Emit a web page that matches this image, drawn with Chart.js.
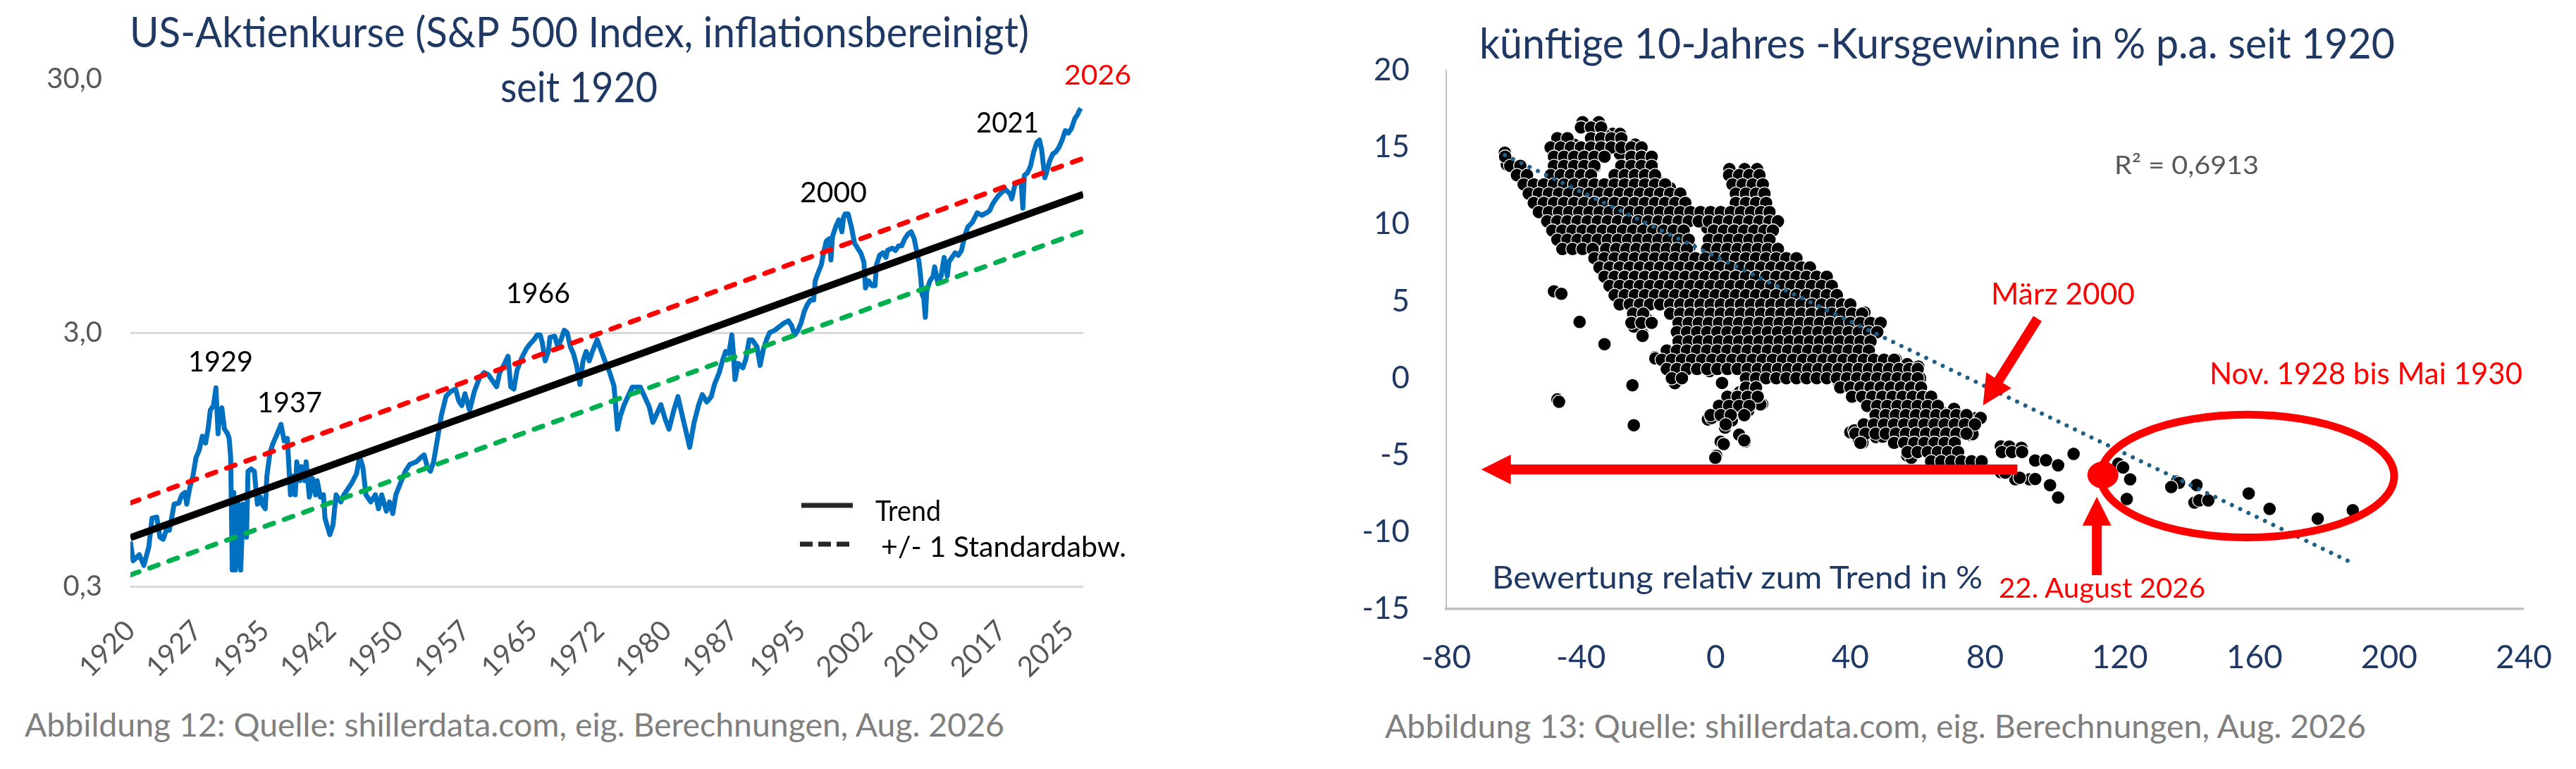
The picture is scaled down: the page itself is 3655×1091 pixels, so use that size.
<!DOCTYPE html>
<html>
<head>
<meta charset="utf-8">
<script src="https://cdn.jsdelivr.net/npm/chart.js@4.4.1/dist/chart.umd.min.js"></script>
<style>
html,body{margin:0;padding:0;background:#fff;}
body{width:3655px;height:1091px;position:relative;overflow:hidden;}
.box{position:absolute;}
.txt{position:absolute;white-space:nowrap;line-height:1;font-family:Lato,'Noto Sans',sans-serif;transform-origin:0 0;}
</style>
</head>
<body>
<div class="box" style="left:0;top:0;width:1830px;height:1000px"><canvas id="left"></canvas></div>
<div class="box" style="left:1830px;top:0;width:1825px;height:1000px"><canvas id="right"></canvas></div>
<script>
// ---------------- LEFT CHART DATA (S&P 500 real, log scale) ----------------
const priceYears = [
1920.00,1920.31,1921.00,1921.51,1922.07,1922.42,1922.95,1923.30,1923.66,1924.02,
1924.36,1924.71,1924.89,1925.41,1925.76,1926.12,1926.30,1926.65,1927.00,1927.35,
1927.70,1928.05,1928.41,1928.69,1928.94,1929.29,1929.57,1929.81,1929.99,1930.23,
1930.52,1930.87,1931.05,1931.22,1931.40,1931.57,1931.75,1932.10,1932.34,1932.62,
1932.99,1933.16,1933.51,1933.86,1934.21,1934.56,1934.74,1935.09,1935.27,1935.62,
1935.97,1936.32,1936.85,1937.20,1937.56,1937.91,1938.09,1938.44,1938.61,1938.96,
1939.14,1939.49,1939.66,1940.02,1940.37,1940.72,1940.90,1941.25,1941.60,1941.77,
1942.31,1942.66,1943.01,1943.54,1943.89,1944.24,1944.77,1945.30,1945.65,1946.00,
1946.35,1946.89,1947.41,1947.76,1948.11,1948.64,1948.99,1949.35,1949.70,1950.22,
1950.75,1951.27,1951.98,1952.51,1952.86,1953.21,1953.56,1953.92,1954.45,1954.80,
1955.32,1955.85,1956.38,1956.73,1957.08,1957.43,1957.95,1958.48,1959.08,1959.58,
1960.07,1960.61,1960.97,1961.32,1961.88,1962.25,1962.55,1962.90,1963.26,1963.75,
1964.28,1964.66,1965.15,1965.50,1965.85,1966.07,1966.41,1966.76,1966.94,1967.47,
1967.82,1968.18,1968.53,1968.87,1969.22,1969.57,1969.92,1970.29,1970.64,1970.99,
1971.34,1971.69,1972.21,1972.70,
1973.13,1973.60,1974.10,1974.50,1974.79,
1975.24,1976.14,1977.05,1978.05,1978.45,1979.35,1979.86,1980.26,1980.76,1981.26,
1981.77,1982.17,1982.57,1983.07,1983.58,1983.98,1984.48,1984.98,
1985.35,1985.88,1986.23,1986.59,1986.94,1987.29,1987.46,1987.64,1987.99,1988.52,
1988.87,1989.22,1989.57,1990.10,1990.45,1990.81,1991.16,1991.51,1992.04,1992.57,
1993.10,1993.62,1993.97,1994.32,1994.67,1995.02,1995.39,1995.74,1996.09,1996.44,
1996.61,1996.79,1997.31,1997.49,1997.85,1998.20,1998.37,1998.55,1998.90,1999.25,
1999.60,1999.78,1999.95,2000.30,2000.66,2001.01,2001.36,2001.71,2002.06,2002.24,
2002.59,2002.94,2003.30,2003.47,2003.82,2004.18,2004.53,2004.70,2005.23,2005.59,
2005.94,2006.29,2006.64,2006.99,2007.34,2007.69,2008.05,2008.23,2008.40,2008.58,
2008.75,2008.93,2009.10,2009.45,2009.80,2009.98,2010.34,2010.69,2011.04,2011.39,
2011.56,2011.91,2012.26,2012.62,2012.98,2013.33,2013.68,2014.20,2014.73,2015.26,
2015.79,2016.14,2016.49,2017.03,2017.55,2017.90,2018.43,2018.60,2018.96,2019.31,
2019.66,2019.84,2020.01,2020.36,2020.71,2021.06,2021.41,2021.70,2021.94,2022.30,
2022.48,2022.83,2023.18,2023.54,2023.89,2024.24,2024.59,2024.94,2025.29,2025.64,
2025.99,2026.16,2026.34
];
const priceValues = [
0.45,0.379,0.400,0.363,0.431,0.557,0.563,0.469,0.460,0.500,
0.500,0.581,0.633,0.639,0.689,0.704,0.633,0.735,0.818,0.969,
1.033,1.174,1.102,1.252,1.484,1.549,1.818,1.200,1.484,1.517,
1.252,1.200,1.149,0.969,0.348,0.704,0.348,0.633,0.348,0.633,
0.469,0.853,0.871,0.853,0.633,0.675,0.633,0.607,0.818,1.012,
1.102,1.174,1.306,1.125,1.149,0.689,0.818,0.689,0.929,0.783,
0.890,0.783,0.929,0.675,0.800,0.689,0.783,0.675,0.689,0.557,
0.480,0.522,0.689,0.646,0.689,0.719,0.767,0.835,0.969,0.890,
0.689,0.646,0.689,0.607,0.689,0.594,0.646,0.581,0.689,0.767,
0.853,0.909,0.929,0.969,0.990,0.890,0.853,0.929,1.200,1.423,
1.687,1.761,1.799,1.617,1.549,1.724,1.484,1.761,2.001,2.088,
2.045,1.918,1.837,2.088,2.274,2.424,1.837,1.799,2.134,2.373,
2.585,2.697,2.815,2.937,2.937,2.755,2.323,2.530,2.875,2.906,
2.640,2.815,3.066,3.001,2.640,2.477,2.226,1.877,2.323,2.530,
2.323,2.530,2.815,2.530,
2.30,2.10,1.85,1.25,1.40,
1.56,1.83,1.83,1.53,1.33,1.56,1.36,1.25,1.47,1.68,
1.40,1.22,1.06,1.33,1.56,1.71,1.60,1.68,
1.88,2.09,2.32,2.53,2.48,2.94,2.48,1.96,2.27,2.18,
2.37,2.81,2.81,2.64,2.23,2.58,2.81,3.00,3.06,3.16,
3.27,3.34,3.20,2.94,3.06,3.27,3.64,3.88,4.04,4.04,
4.80,5.01,5.57,6.06,6.89,7.04,5.81,7.19,7.83,8.35,
7.50,8.53,8.81,8.81,7.83,6.75,6.46,6.19,5.69,4.50,
4.80,4.60,4.60,5.57,6.06,6.19,5.94,6.33,6.46,6.33,
6.60,6.60,7.04,7.35,7.50,7.04,6.06,5.69,5.01,4.22,
4.13,3.45,4.40,4.80,5.01,5.45,4.69,5.01,5.94,5.01,
5.69,5.94,6.19,6.06,6.33,7.19,7.83,8.17,8.90,8.71,
8.90,9.09,9.69,10.33,10.78,11.01,10.55,10.11,11.49,11.74,
11.74,9.29,12.51,12.79,13.63,15.49,16.87,17.23,15.82,12.25,
12.79,14.22,15.17,15.49,16.16,17.23,18.77,18.37,19.17,20.88,
21.79,22.50,22.98
];
const trendYears  = [1920, 2026.6];
const trendValues = [0.467, 10.53];
const upperValues = [0.640, 14.6];
const lowerValues = [0.333, 7.54];
const leftXTickLabels = ['1920','1927','1935','1942','1950','1957','1965','1972','1980','1987','1995','2002','2010','2017','2025'];
const leftYTickValues = [0.3, 3, 30];
const leftYTickLabels = ['0,3','3,0','30,0'];

// ---------------- RIGHT CHART DATA (valuation vs. future 10y return) ----------------
// individually read dots (edges, outliers, sparse parts)
const monthlyPoints = [
[-39.5,16.64],[-34.7,16.64],[-30.6,15.88],[-32.8,15.8],[-28.4,15.88],[-35.4,14.81],[-32.4,14.73],[-28.4,14.58],[-23.9,15.19],[-37.3,14.2],
[-20.6,14.2],[-22.5,13.82],[-47.6,15.11],[-42.1,15.19],[-44.3,14.89],[-46.1,14.2],[-42.8,14.05],[-41.7,13.43],[-43.9,13.13],[-35.8,13.74],
[-37.3,13.28],[-17.7,13.05],
[-62.6,14.66],[-62.0,13.89],[-58.7,13.13],[-56.1,12.82],[-53.5,11.68],[-49.8,12.67],[-47.6,12.67],[-52.0,11.14],[-49.8,10.53],[-47.2,10.23],
[-46.1,9.16],[-43.9,9.24],[-41.7,8.7],[-38.7,11.6],[-40.9,11.14],[-44.6,11.6],[-48.3,11.91],
[-34.3,12.21],[-29.1,12.82],[-26.2,12.37],[-29.9,11.45],[-32.8,10.84],[-35.8,10.38],[-25.4,11.3],[-22.5,11.14],[-19.5,12.06],[-17.3,11.6],
[-13.6,12.37],[-10.6,11.6],[-15.1,10.69],[-18.0,9.92],[-21.0,10.53],[-23.9,10.07],[-26.9,9.77],[-29.9,9.46],[-32.8,8.85],[-35.8,8.09],
[-29.9,8.24],[-26.2,8.55],[-22.5,9.0],[-18.8,8.85],[-13.6,10.38],[-9.2,10.38],[-6.2,10.69],[-4.7,10.38],[-1.8,10.53],[2.7,10.38],
[-2.5,9.77],[0.4,9.16],[4.1,9.77],[7.1,10.53],[10.0,10.99],[13.0,11.6],[16.0,10.84],[13.7,10.38],[4.1,13.59],[8.6,13.59],
[12.3,13.59],[13.0,12.98],[6.4,12.67],[9.3,12.21],
[-7.7,8.55],[-10.6,7.94],[-15.1,7.94],[-18.0,7.17],[-21.0,7.02],[-23.9,6.41],[-26.9,6.1],[-29.1,5.65],[-19.5,6.41],[-14.3,6.41],
[-7.7,6.72],[-4.0,7.02],[-1.0,7.17],[2.7,6.72],[5.6,8.24],[8.6,7.94],[1.9,8.39],[14.5,7.78],[18.2,7.33],[21.9,7.33],
[25.6,7.02],[16.0,6.41],[12.3,6.1],[7.8,5.8],[4.1,6.1],[-0.3,5.49],[-3.3,5.19],[-7.7,5.65],[-10.6,5.04],[-12.9,4.42],
[-15.8,5.04],[-4.7,4.27],[-1.8,3.97],[1.2,4.27],[5.6,4.58],[10.0,4.73],[14.5,5.04],[18.9,5.19],[21.9,5.8],[27.8,5.8],
[30.7,6.1],[33.7,5.95],[38.1,4.73],[41.1,3.97],[30.7,4.27],[27.8,3.97],[24.8,4.58],[20.4,3.97],[16.7,3.66],[13.0,3.36],
[8.6,3.66],[4.1,3.2],[-0.3,3.05],[-4.0,3.36],[-7.7,3.05],[-10.6,3.36],[-9.2,2.44],[-6.2,2.14],[-2.5,1.83],[1.9,2.44],
[6.4,2.44],[10.8,2.44],[14.5,2.14],[18.9,2.44],[22.6,3.05],[26.3,3.2],[30.7,3.66],[34.4,3.36],[38.1,3.05],[35.9,2.44],
[32.2,2.44],[27.8,1.68],[24.1,1.98],[21.1,1.52],[17.4,1.22],[13.0,0.91],[9.3,1.52],[4.9,1.68],[1.2,1.52],[-3.3,1.22],
[-7.0,1.52],[-10.6,1.52],[-13.6,1.07],[-12.9,0.3],[-9.2,0.46],[-18.0,1.37],[-1.8,0.46],[1.9,-0.31],[7.1,-0.92],[11.5,-0.61],
[16.0,0.3],[20.4,0.3],[24.8,0.46],[29.3,0.76],[33.7,0.3],[36.6,-0.31],[39.6,-0.61],
[-48.0,5.65],[-45.8,5.49],[-40.4,3.66],[-33.0,2.21],[-24.7,-0.46],[-47.0,-1.38],[-22.5,4.27],[-20.3,3.81],[-23.9,3.36],[-21.7,2.9],
[-31.0,6.72],[-28.5,5.80],[-24.3,6.26],[-20.0,6.87],[-21.7,5.65],[-15.0,6.41],[-11.6,5.80],[-8.2,5.65],[-3.1,5.49],[0.2,6.26],
[2.8,6.87],[7.0,6.56],[12.1,6.26],[17.1,6.72],[22.2,6.56],[25.6,6.26],[30.7,6.41],[33.2,5.80],[21.4,5.19],[18.0,5.34],
[13.8,5.04],[8.7,4.88],[3.6,5.34],[-1.4,4.88],[-4.8,4.73],[-9.1,4.88],[-12.4,4.42],[-15.8,5.34],[-19.2,5.04],[-22.6,4.27],
[-24.3,3.36],[-20.9,3.66],[-21.7,2.75],[-17.9,1.29],[-14.1,0.91],[-12.4,0.0],[-9.9,0.61],[-7.4,1.37],[-3.1,2.13],[0.2,2.59],
[-9.1,2.59],[-6.5,3.36],[-3.1,3.66],[1.1,3.20],[5.3,3.66],[9.5,3.36],[13.8,3.66],[18.0,3.81],[22.2,4.12],[27.3,4.42],
[32.4,4.73],[36.6,4.73],[39.1,4.12],[44.2,4.27],[48.4,3.59],[46.7,2.90],[42.5,2.59],[39.1,2.13],[34.9,1.52],[30.7,1.83],
[28.1,1.37],[24.7,2.29],[20.5,1.98],[15.5,2.13],[12.1,1.68],[7.8,1.98],[3.6,1.68],[-0.6,1.37],[13.8,1.07],[18.0,0.76],
[22.2,0.91],[26.4,0.61],[32.4,0.61],[37.4,0.30],[41.6,-0.16],[45.0,0.76],[49.2,1.07],[53.5,1.22],[56.9,0.91],[60.2,0.76],
[60.7,0.0],[56.0,0.0],[51.8,-0.46],[47.6,-0.92],[43.3,-0.77],[40.8,-1.22],[54.3,-1.07],[58.5,-0.77],[62.8,-1.38],[64.5,-1.99],
[67.8,-2.29],[70.8,-1.99],[74.6,-2.45],[77.1,-2.60],[75.4,-3.67],[71.2,-4.12],[68.7,-3.67],[66.2,-3.21],[61.9,-3.51],[56.9,-3.06],
[53.5,-2.75],[49.2,-2.60],[47.6,-3.82],[42.5,-3.97],[40.0,-3.51],[44.2,-3.21],[54.3,-3.97],[56.9,-5.04],[61.9,-4.58],[66.2,-4.12],
[68.7,-5.19],[72.1,-5.50],[78.0,-5.50],[84.7,-4.43],[89.8,-4.58],[84.7,-6.11],[89.0,-6.57],[93.2,-6.57],[94.9,-5.35],
[13.8,0.15],[11.2,-0.46],[8.7,-0.77],[5.3,-1.22],[3.6,-1.53],[1.9,-1.99],[4.5,-2.60],[0.2,-2.45],[-2.3,-2.68],[2.8,-3.21],
[8.7,-2.29],[13.8,-1.68],[7.0,-3.67],[8.7,-4.12],[1.5,-4.12],[0.2,-5.04],[-24.3,-3.06],
[-0.1,-5.17],[2.4,-4.28],[8.5,-4.04],[-1.2,-2.58],[4.8,-2.75],[9.7,-2.1],[13.3,-1.7],[-12.1,-0.32],[-46.5,-1.53],
[41.2,-3.39],[43.6,-4.2],[49.6,-3.8],[49.6,-2.58],[55.7,-4.04],[58.1,-4.85],[58.1,-5.17],[62.9,-4.69],[67.8,-4.2],[69.0,-5.25],
[70.2,-3.39],[72.6,-5.41],[76.3,-3.63],[78.7,-2.58],[78.7,-5.41],[86.0,-6.14],[87.2,-4.44],[90.8,-4.52],[90.3,-6.47],[94.9,-6.55],
[98.1,-5.33],[99.3,-6.95],[101.7,-5.66],[101.7,-7.76],
[106.3,-4.92],[119.6,-5.56],[121.0,-5.8],[123.1,-6.57],[122.1,-7.85],[137.0,-6.71],[137.6,-6.8],[135.3,-7.07],[142.8,-6.94],[142.2,-8.08],
[143.6,-7.94],[146.3,-7.94],[158.3,-7.49],[164.5,-8.49],[178.8,-9.13],[189.2,-8.58]
];
// dense core of the cloud, read row by row: [future return %, [valuations %]]
const monthlyCoreRows = [
[16.3, [-40,-37,-34]],
[15.6, [-47,-44,-37,-34,-31,-28]],
[15.0, [-49,-46,-43,-40,-37,-34,-31,-28,-25,-22]],
[14.4, [-62.5,-48,-45,-42,-39,-36,-33,-25,-22,-19]],
[13.8, [-61,-58,-48,-45,-42,-39,-36,-28,-25,-22,-19]],
[13.2, [-59,-56,-49,-46,-43,-40,-37,-30,-27,-24,-21,-18,4,7,10,13]],
[12.6, [-57,-54,-51,-48,-45,-42,-39,-36,-33,-30,-27,-24,-21,-18,-15,5,8,11,14]],
[12.0, [-55.5,-52.5,-49.5,-46.5,-43.5,-40.5,-37.5,-34.5,-31.5,-28.5,-25.5,-22.5,-19.5,-16.5,-13.5,-10.5,6,9,12,14.5]],
[11.4, [-54,-51,-48,-45,-42,-39,-36,-33,-30,-27,-24,-21,-18,-15,-12,-9,6,9,12,15]],
[10.8, [-52.5,-49.5,-46.5,-43.5,-40.5,-37.5,-34.5,-31.5,-28.5,-25.5,-22.5,-19.5,-16.5,-13.5,-10.5,-7.5,-4.5,-1.5,1.5,4.5,7.5,10.5,13.5,16]],
[10.2, [-50,-47,-44,-41,-38,-35,-32,-29,-26,-23,-20,-17,-14,-11,-8,-5,-2,1,4,7,10,13,16,18.5]],
[9.6, [-48.5,-45.5,-42.5,-39.5,-36.5,-33.5,-30.5,-27.5,-24.5,-21.5,-18.5,-15.5,-12.5,-9.5,-0.5,2.5,5.5,8.5,11.5,14.5,17]],
[9.0, [-47,-44,-41,-38,-35,-32,-29,-26,-23,-20,-17,-14,-11,-8,-2,1,4,7,10,13,16]],
[8.4, [-45.5,-42.5,-39.5,-36.5,-32.5,-29.5,-26.5,-23.5,-20.5,-17.5,-14.5,-11.5,-8.5,-2.5,0.5,3.5,6.5,9.5,12.5,15.5,18.5]],
[7.8, [-36,-33,-30,-27,-24,-21,-18,-15,-12,-9,-6,-3,0,3,6,9,12,15,18,21,24]],
[7.2, [-34.5,-31.5,-28.5,-25.5,-22.5,-19.5,-16.5,-13.5,-10.5,-7.5,-4.5,-1.5,1.5,4.5,7.5,10.5,13.5,16.5,19.5,22.5,25.5,28]],
[6.6, [-33,-30,-27,-24,-21,-18,-15,-12,-9,-6,-3,0,3,6,9,12,15,18,21,24,27,30,33]],
[6.0, [-31.5,-28.5,-25.5,-22.5,-19.5,-16.5,-13.5,-10.5,-7.5,-4.5,-1.5,1.5,4.5,7.5,10.5,13.5,16.5,19.5,22.5,25.5,28.5,31.5,34.5]],
[5.4, [-30,-27,-24,-21,-18,-15,-12,-9,-6,-3,0,3,6,9,12,15,18,21,24,27,30,33,36]],
[4.8, [-28.5,-25.5,-22.5,-19.5,-16.5,-13.5,-10.5,-7.5,-4.5,-1.5,1.5,4.5,7.5,10.5,13.5,16.5,19.5,22.5,25.5,28.5,31.5,34.5,37.5,40]],
[4.2, [-24.5,-21.5,-13.5,-10.5,-7.5,-4.5,-1.5,1.5,4.5,7.5,10.5,13.5,16.5,19.5,22.5,25.5,28.5,31.5,34.5,37.5,40.5,43.5]],
[3.6, [-25,-22,-19,-11,-8,-5,-2,1,4,7,10,13,16,19,22,25,28,31,34,37,40,43,46,49]],
[3.0, [-11.5,-8.5,-5.5,-2.5,0.5,3.5,6.5,9.5,12.5,15.5,18.5,21.5,24.5,27.5,30.5,33.5,36.5,39.5,42.5,45.5,48]],
[2.4, [-11,-8,-5,-2,1,4,7,10,13,16,19,22,25,28,31,34,37,40,43,46]],
[1.8, [-14.5,-11.5,-8.5,-5.5,-2.5,0.5,3.5,6.5,9.5,12.5,15.5,18.5,21.5,24.5,27.5,30.5,33.5,36.5,39.5,42.5,45.5]],
[1.2, [-16,-13,-10,-7,-4,-1,2,5,8,11,14,17,20,23,26,29,32,35,38,41,44,47,50,53]],
[0.6, [-14.5,-11.5,-8.5,-5.5,-2.5,0.5,3.5,6.5,9.5,12.5,15.5,18.5,21.5,24.5,27.5,30.5,33.5,36.5,39.5,42.5,45.5,48.5,51.5,54.5,57.5,60]],
[0.0, [-13,-10,9,12,15,18,21,24,27,30,33,36,39,42,45,48,51,54,57,60]],
[-0.6, [9,12,37,40,43,46,49,52,55,58,61]],
[-1.2, [3.5,6.5,9.5,12.5,40.5,43.5,46.5,49.5,52.5,55.5,58.5,61.5,64]],
[-1.8, [1,4,7,10,45,48,51,54,57,60,63,66]],
[-2.4, [-1.5,1.5,4.5,8.5,47.5,50.5,53.5,56.5,59.5,62.5,65.5,68.5,71.5,74.5]],
[-3.0, [3,44,47,50,53,56,59,62,65,68,71,74,77]],
[-3.6, [41.5,44.5,47.5,50.5,53.5,56.5,59.5,62.5,65.5,68.5,71.5,74.5]],
[-4.2, [43,53,56,59,62,65,68,71]],
[-4.8, [57,60,63,66,69,72,85,88,91]],
[-5.4, [64,67,70,73,76,79]]
];
const currentPoint = [115.0, -6.29];          // 22. August 2026
const regressionX = [-62.6, 188.7];
const regressionY = [14.5, -11.97];
const rightXTicks = [-80,-40,0,40,80,120,160,200,240];
const rightYTicks = [-15,-10,-5,0,5,10,15,20];

// ---------------- TEXTS ----------------
const NAVY = '#1f3864', RED = '#ff0000', GREY = '#595959', FOOT = '#7f7f7f';
const texts = [
 {t:'US-Aktienkurse (S&P 500 Index, inflationsbereinigt)', x:184, w:1276, base:67, cap:43, c:NAVY},
 {t:'seit 1920', x:710, w:223, base:145, cap:43, c:NAVY},
 {t:'1929', x:267, w:92, base:527, cap:29, c:'#000'},
 {t:'1937', x:365, w:92, base:585, cap:29, c:'#000'},
 {t:'1966', x:718, w:91, base:430, cap:29, c:'#000'},
 {t:'2000', x:1135, w:95, base:287, cap:29, c:'#000'},
 {t:'2021', x:1385, w:89, base:188, cap:29, c:'#000'},
 {t:'2026', x:1510, w:95, base:120, cap:28, c:RED},
 {t:'Trend', x:1242, w:93, base:739, cap:29, c:'#000'},
 {t:'+/- 1 Standardabw.', x:1250, w:348, base:790, cap:29, c:'#000'},
 {t:'Abbildung 12: Quelle: shillerdata.com, eig. Berechnungen, Aug. 2026', x:35, w:1390, base:1045, cap:33, c:FOOT},
 {t:'künftige 10-Jahres -Kursgewinne in % p.a. seit 1920', x:2099, w:1299, base:83, cap:43, c:NAVY},
 {t:'R² = 0,6913', x:3000, w:205, base:247, cap:26, c:GREY},
 {t:'März 2000', x:2825, w:204, base:432, cap:30, c:RED},
 {t:'Nov. 1928 bis Mai 1930', x:3135, w:444, base:545, cap:30, c:RED},
 {t:'Bewertung relativ zum Trend in %', x:2117, w:696, base:835, cap:32, c:NAVY},
 {t:'22. August 2026', x:2836, w:293, base:848, cap:27, c:RED},
 {t:'Abbildung 13: Quelle: shillerdata.com, eig. Berechnungen, Aug. 2026', x:1965, w:1392, base:1047, cap:33, c:FOOT}
];
const CAP_RATIO = 0.7165; // Lato cap height / em

function layoutTexts(){
  texts.forEach(s=>{
    const d = document.createElement('div');
    d.className = 'txt';
    d.textContent = s.t;
    d.style.color = s.c;
    d.style.fontSize = (s.cap / CAP_RATIO) + 'px';
    d.style.left = s.x + 'px';
    d.style.top = '0px';
    const m = document.createElement('span');
    m.style.cssText = 'display:inline-block;width:0;height:0;vertical-align:baseline';
    d.appendChild(m);
    document.body.appendChild(d);
    const w = d.getBoundingClientRect().width;
    const b = m.getBoundingClientRect().top;
    d.style.transform = 'scaleX(' + (s.w / w) + ')';
    d.style.top = (s.base - b) + 'px';
  });
}

// ---------------- CHARTS ----------------
const FONT = "Lato, 'Noto Sans', sans-serif";

const leftLegend = {
  id: 'leftLegend',
  afterDraw(chart){
    const c = chart.ctx;
    c.save();
    c.strokeStyle = '#262626';
    c.lineWidth = 7;
    c.lineCap = 'butt';
    c.beginPath(); c.moveTo(1137, 717); c.lineTo(1210, 717); c.stroke();
    c.setLineDash([18, 8]);
    c.beginPath(); c.moveTo(1135, 772); c.lineTo(1212, 772); c.stroke();
    c.restore();
  }
};

new Chart(document.getElementById('left'), {
  type: 'line',
  data: {
    datasets: [
      {label:'S&P 500 (real)', data: priceYears.map((x,i)=>({x, y: priceValues[i]})),
       borderColor:'#0070c0', borderWidth:7, pointRadius:0, tension:0, borderJoinStyle:'round', order:4},
      {label:'Trend', data: trendYears.map((x,i)=>({x, y: trendValues[i]})),
       borderColor:'#000', borderWidth:10, pointRadius:0, order:3},
      {label:'+1 Std', data: trendYears.map((x,i)=>({x, y: upperValues[i]})),
       borderColor:'#ff0000', borderWidth:7, borderDash:[13,16], borderCapStyle:'round', pointRadius:0, order:2},
      {label:'-1 Std', data: trendYears.map((x,i)=>({x, y: lowerValues[i]})),
       borderColor:'#00b050', borderWidth:7, borderDash:[13,16], borderCapStyle:'round', pointRadius:0, order:1}
    ]
  },
  options: {
    responsive:true, maintainAspectRatio:false, animation:false, events:[],
    layout:{padding:{left:0, top:112, right:293, bottom:0}, autoPadding:false},
    plugins:{legend:{display:false}, tooltip:{enabled:false}},
    scales:{
      x:{
        type:'linear', min:1920, max:2026.6,
        afterFit: s => { s.height = 168; },
        afterBuildTicks: s => { s.ticks = leftXTickLabels.map((l,i)=>({value: 1920 + 7.5*i})); },
        ticks:{autoSkip:false, minRotation:45, maxRotation:45, padding:31, color:GREY,
               font:{family:FONT, size:40}, callback:(v,i)=>leftXTickLabels[i]},
        grid:{display:false}, border:{display:false}
      },
      y:{
        type:'logarithmic', min:0.3, max:30,
        afterFit: s => { s.width = 185; },
        afterBuildTicks: s => { s.ticks = leftYTickValues.map(v=>({value:v})); },
        ticks:{padding:40, color:GREY, font:{family:FONT, size:40}, callback:(v,i)=>leftYTickLabels[i]},
        grid:{drawTicks:false, lineWidth:3,
              color: ctx => (ctx.tick && ctx.tick.value === 30) ? 'rgba(0,0,0,0)' : '#d9d9d9'},
        border:{display:false}
      }
    }
  },
  plugins:[leftLegend]
});

// annotation shapes for the right chart, expressed in data coordinates
const rightShapes = {
  ellipse: {cx:157.9, cy:-6.36, rx:43.6, ry:3.99, width:11},
  arrows: [
    {from:[89.6,-5.93], to:[-69.6,-5.93], shaft:14, head:42, headW:42},
    {from:[113.2,-12.8], to:[113.2,-7.71], shaft:14, head:41, headW:41},
    {from:[95.6,3.87], to:[79.4,-1.76], shaft:14, head:42, headW:42}
  ]
};
function drawArrow(ctx,x1,y1,x2,y2,shaft,headLen,headW){
  const dx=x2-x1, dy=y2-y1, L=Math.hypot(dx,dy), ux=dx/L, uy=dy/L, px=-uy, py=ux;
  const bx=x2-ux*headLen, by=y2-uy*headLen;
  ctx.beginPath();
  ctx.moveTo(x1+px*shaft/2, y1+py*shaft/2);
  ctx.lineTo(bx+px*shaft/2, by+py*shaft/2);
  ctx.lineTo(bx+px*headW/2, by+py*headW/2);
  ctx.lineTo(x2, y2);
  ctx.lineTo(bx-px*headW/2, by-py*headW/2);
  ctx.lineTo(bx-px*shaft/2, by-py*shaft/2);
  ctx.lineTo(x1-px*shaft/2, y1-py*shaft/2);
  ctx.closePath();
  ctx.fill();
}
const rightAnnotations = {
  id:'rightAnnotations',
  afterDatasetsDraw(chart){
    const c = chart.ctx, xs = chart.scales.x, ys = chart.scales.y;
    c.save();
    const e = rightShapes.ellipse;
    const cx = xs.getPixelForValue(e.cx), cy = ys.getPixelForValue(e.cy);
    const rx = xs.getPixelForValue(e.cx + e.rx) - cx, ry = cy - ys.getPixelForValue(e.cy + e.ry);
    c.strokeStyle = '#ff0000'; c.lineWidth = e.width;
    c.beginPath(); c.ellipse(cx, cy, rx, ry, 0, 0, Math.PI*2); c.stroke();
    c.fillStyle = '#ff0000';
    rightShapes.arrows.forEach(a=>{
      drawArrow(c, xs.getPixelForValue(a.from[0]), ys.getPixelForValue(a.from[1]),
                   xs.getPixelForValue(a.to[0]), ys.getPixelForValue(a.to[1]), a.shaft, a.head, a.headW);
    });
    const px = xs.getPixelForValue(currentPoint[0]), py = ys.getPixelForValue(currentPoint[1]);
    c.beginPath(); c.ellipse(px, py, 22, 19, 0, 0, Math.PI*2); c.fill();
    c.restore();
  }
};

const allMonthly = monthlyPoints.map(p=>({x:p[0], y:p[1]}));
monthlyCoreRows.forEach(r => r[1].forEach(x => allMonthly.push({x, y:r[0]})));

new Chart(document.getElementById('right'), {
  type:'scatter',
  data:{
    datasets:[
      {label:'Regression', type:'line', showLine:true,
       data: regressionX.map((x,i)=>({x, y: regressionY[i]})),
       borderColor:'#1f6089', borderWidth:6, borderDash:[0.01,13], borderCapStyle:'round',
       pointRadius:0, order:1},
      {label:'Monate', data: allMonthly,
       pointRadius:9.5, pointBackgroundColor:'#000', pointBorderColor:'#ffffff', pointBorderWidth:1.3,
       backgroundColor:'#000', borderColor:'#fff', order:2}
    ]
  },
  options:{
    responsive:true, maintainAspectRatio:false, animation:false, events:[],
    layout:{padding:{left:0, top:100, right:58, bottom:0}, autoPadding:false},
    plugins:{legend:{display:false}, tooltip:{enabled:false}},
    scales:{
      x:{
        type:'linear', min:-80, max:240,
        afterFit: s => { s.height = 136; },
        afterBuildTicks: s => { s.ticks = rightXTicks.map(v=>({value:v})); },
        ticks:{padding:34, color:NAVY, font:{family:FONT, size:46}, callback:(v)=>String(v)},
        grid:{display:false},
        border:{display:true, color:'#bfbfbf', width:3.5}
      },
      y:{
        type:'linear', min:-15, max:20,
        afterFit: s => { s.width = 222; },
        afterBuildTicks: s => { s.ticks = rightYTicks.map(v=>({value:v})); },
        ticks:{padding:44, color:NAVY, font:{family:FONT, size:44}, callback:(v)=>String(v)},
        grid:{display:false},
        border:{display:true, color:'#bfbfbf', width:2}
      }
    }
  },
  plugins:[rightAnnotations]
});

if (document.fonts && document.fonts.load) {
  document.fonts.load("40px Lato").then(layoutTexts, layoutTexts);
} else { layoutTexts(); }
</script>
</body>
</html>
